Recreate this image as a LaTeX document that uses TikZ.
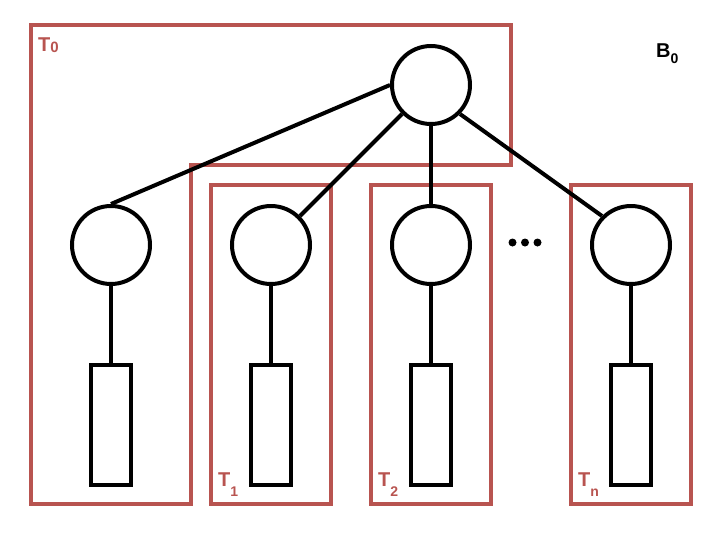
\documentclass[tikz,border=0pt]{standalone}
\usepackage{fontspec}
\setmainfont{Liberation Sans}
\definecolor{tred}{HTML}{B85450}
\begin{document}
\begin{tikzpicture}[x=1pt,y=-1pt,
  circ/.style={circle,draw,line width=4pt,minimum size=78pt,inner sep=0pt},
  leaf/.style={draw,line width=4pt,minimum width=40pt,minimum height=120pt,inner sep=0pt},
  edge/.style={line width=4pt},
  grp/.style={draw=tred,line width=4pt},
  dot/.style={circle,fill,inner sep=0pt,minimum size=8pt},
  lbl/.style={text=tred,font=\fontsize{20}{20}\selectfont\bfseries,inner sep=0pt,anchor=base west}]
\useasboundingbox (0,0) rectangle (718,533);
% groups
\draw[grp] (31,25) -- (511,25) -- (511,164.5) -- (191,164.5) -- (191,504) -- (31,504) -- cycle;
\draw[grp] (211,185) rectangle (331,504);
\draw[grp] (371,185) rectangle (491,504);
\draw[grp] (571,185) rectangle (691,504);
% nodes
\node[circ] (r) at (431,85) {};
\node[circ] (c1) at (111,245) {};
\node[circ] (c2) at (271,245) {};
\node[circ] (c3) at (431,245) {};
\node[circ] (cn) at (631,245) {};
\node[leaf] (l1) at (111,425) {};
\node[leaf] (l2) at (271,425) {};
\node[leaf] (l3) at (431,425) {};
\node[leaf] (ln) at (631,425) {};
% edges
\draw[edge] (r.west) -- (c1.north);
\draw[edge] (r.south west) -- (c2.north east);
\draw[edge] (r.south) -- (c3.north);
\draw[edge] (r.south east) -- (cn.north west);
\draw[edge] (c1.south) -- (l1.north);
\draw[edge] (c2.south) -- (l2.north);
\draw[edge] (c3.south) -- (l3.north);
\draw[edge] (cn.south) -- (ln.north);
% dots
\node[dot] (d1) at (512.5,242.5) {};
\node[dot] (d2) at (525,242.5) {};
\node[dot] (d3) at (537.5,242.5) {};
% labels
\node[lbl] (t0) at (38,51) {T\raisebox{-1pt}{\fontsize{15}{15}\selectfont 0}};
\node[lbl] (t1) at (218,486) {T\raisebox{-10.5pt}{\fontsize{14}{14}\selectfont 1}};
\node[lbl] (t2) at (378,486) {T\raisebox{-10.5pt}{\fontsize{14}{14}\selectfont 2}};
\node[lbl] (tn) at (578,486) {T\raisebox{-10.5pt}{\fontsize{14}{14}\selectfont n}};
\node[anchor=base west,inner sep=0pt,font=\fontsize{20}{20}\selectfont\bfseries] (b0) at (656,57) {B\raisebox{-6pt}{\fontsize{14}{14}\selectfont 0}};
\end{tikzpicture}
\end{document}
